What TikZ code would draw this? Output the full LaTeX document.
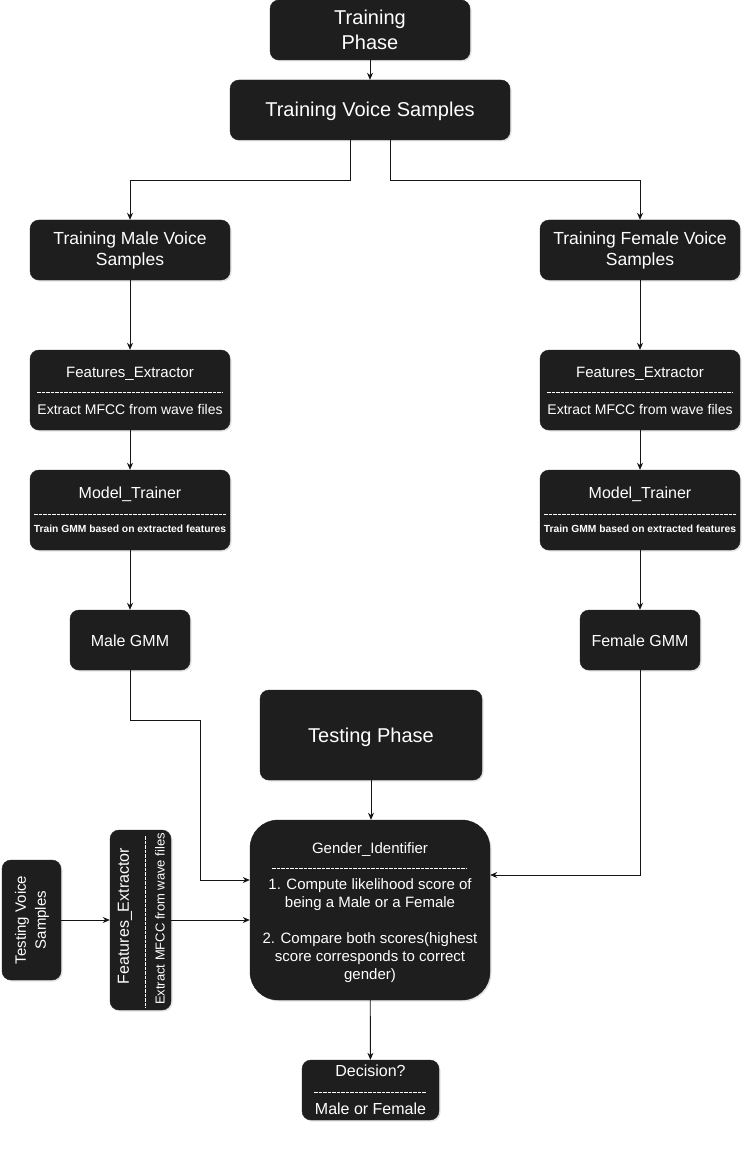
\documentclass[tikz,border=0pt]{standalone}
\usepackage{fontspec}
\setmainfont{Liberation Sans}
\usetikzlibrary{arrows.meta,shadows,calc}
\definecolor{boxfill}{RGB}{30,30,30}
\definecolor{linec}{RGB}{20,20,20}
\tikzset{
  box/.style={draw=boxfill, fill=boxfill, rounded corners=9pt, text=white, align=center, inner sep=0pt,
    drop shadow={shadow xshift=1.5pt, shadow yshift=-1.5pt, opacity=0.22}},
  lbl/.style={text=white, inner sep=0pt, align=center},
  sepline/.style={draw=white, line width=0.6pt, dash pattern=on 3.5pt off 1pt},
  conn/.style={draw=linec, line width=0.9pt, -{Stealth[length=7pt,width=6pt]}},
}
\begin{document}
\begin{tikzpicture}[x=1pt,y=-1pt]
\useasboundingbox (0,0) rectangle (752,1166);
\fill[white] (0,0) rectangle (752,1166);

% Training phase
\node[box, minimum width=200pt, minimum height=60pt, font=\fontsize{20}{25}\selectfont] (tp) at (370,30) {Training\\Phase};
\node[box, minimum width=280pt, minimum height=60pt, font=\fontsize{20}{24}\selectfont] (tvs) at (370,110) {};
\node[lbl, font=\fontsize{20}{24}\selectfont] (tvst) at (370,111.5) {Training Voice Samples};

\node[box, minimum width=200pt, minimum height=60pt, font=\fontsize{17.5}{21}\selectfont] (tm) at (130,250) {Training Male Voice\\Samples};
\node[box, minimum width=200pt, minimum height=60pt, font=\fontsize{17.5}{21}\selectfont] (tf) at (640,250) {Training Female Voice\\Samples};

% Feature extractors (left / right)
\node[box, minimum width=200pt, minimum height=80pt] (fe1) at (130,390) {};
\node[lbl, font=\fontsize{15}{18}\selectfont] (fe1t) at (130,374) {Features\_Extractor};
\draw[sepline] (37,392) coordinate (fe1a) -- (223,392) coordinate (fe1b);
\node[lbl, font=\fontsize{14}{17}\selectfont] (fe1s) at (130,409) {Extract MFCC from wave files};

\node[box, minimum width=200pt, minimum height=80pt] (fe2) at (640,390) {};
\node[lbl, font=\fontsize{15}{18}\selectfont] (fe2t) at (640,374) {Features\_Extractor};
\draw[sepline] (547,392) coordinate (fe2a) -- (733,392) coordinate (fe2b);
\node[lbl, font=\fontsize{14}{17}\selectfont] (fe2s) at (640,409) {Extract MFCC from wave files};

% Model trainers
\node[box, minimum width=200pt, minimum height=80pt] (mt1) at (130,510) {};
\node[lbl, font=\fontsize{16}{19}\selectfont] (mt1t) at (130,494) {Model\_Trainer};
\draw[sepline] (34,514) coordinate (mt1a) -- (226,514) coordinate (mt1b);
\node[lbl, font=\bfseries\fontsize{10.3}{12}\selectfont] (mt1s) at (130,529) {Train GMM based on extracted features};

\node[box, minimum width=200pt, minimum height=80pt] (mt2) at (640,510) {};
\node[lbl, font=\fontsize{16}{19}\selectfont] (mt2t) at (640,494) {Model\_Trainer};
\draw[sepline] (544,514) coordinate (mt2a) -- (736,514) coordinate (mt2b);
\node[lbl, font=\bfseries\fontsize{10.3}{12}\selectfont] (mt2s) at (640,529) {Train GMM based on extracted features};

% GMMs
\node[box, minimum width=120pt, minimum height=60pt] (mg) at (130,640) {};
\node[lbl, font=\fontsize{16}{19}\selectfont] (mgt) at (130,641) {Male GMM};
\node[box, minimum width=120pt, minimum height=60pt] (fg) at (640,640) {};
\node[lbl, font=\fontsize{16}{19}\selectfont] (fgt) at (640,641) {Female GMM};

% Testing phase
\node[box, minimum width=222pt, minimum height=90pt] (tph) at (371,735) {};
\node[lbl, font=\fontsize{20}{24}\selectfont] (tpht) at (371,737) {Testing Phase};

% Gender identifier
\node[box, rounded corners=28pt, minimum width=240pt, minimum height=180pt] (gi) at (370,910) {};
\node[lbl, font=\fontsize{15}{18}\selectfont] (git) at (370,850) {Gender\_Identifier};
\draw[sepline] (272,868) coordinate (gia) -- (467,868) coordinate (gib);
\node[lbl, font=\fontsize{15}{18}\selectfont] (gis) at (370,931)
  {1. Compute likelihood score of\\being a Male or a Female\\[18pt]2. Compare both scores(highest\\score corresponds to correct\\gender)};

% Decision
\node[box, minimum width=137pt, minimum height=60pt] (dec) at (370.5,1090) {};
\node[lbl, font=\fontsize{16}{19}\selectfont] (dect) at (370.5,1071) {Decision?};
\draw[sepline] (314,1092) coordinate (deca) -- (426,1092) coordinate (decb);
\node[lbl, font=\fontsize{16}{19}\selectfont] (decs) at (370.5,1109) {Male or Female};

% Testing voice samples (rotated)
\node[box, minimum width=59pt, minimum height=120pt] (tvs2) at (31.5,920) {};
\node[lbl, rotate=90, font=\fontsize{15}{20}\selectfont] (tvs2t) at (32,920) {Testing Voice\\Samples};

\node[box, minimum width=61pt, minimum height=180pt] (fe3) at (140.5,920) {};
\node[lbl, rotate=90, font=\fontsize{16}{19}\selectfont] (fe3t) at (125,916) {Features\_Extractor};
\draw[sepline] (145,836) coordinate (fe3a) -- (145,1008) coordinate (fe3b);
\node[lbl, rotate=90, font=\fontsize{13}{16}\selectfont] (fe3s) at (160,919) {Extract MFCC from wave files};

% Connectors
\coordinate (mj) at (200,720);
\draw[conn] (tp) -- (tvs);
\draw[conn] ($(tvs.south)+(-20,0)$) -- ++(0,40) -| (tm.north);
\draw[conn] ($(tvs.south)+(20,0)$) -- ++(0,40) -| (tf.north);
\draw[conn] (tm) -- (fe1);
\draw[conn] (fe1) -- (mt1);
\draw[conn] (mt1) -- (mg);
\draw[conn] (tf) -- (fe2);
\draw[conn] (fe2) -- (mt2);
\draw[conn] (mt2) -- (fg);
\draw[conn] (mg.south) |- (mj) |- ($(gi.west)+(0,-30)$);
\draw[conn] (fg.south) |- ($(gi.east)+(0,-35)$);
\draw[conn] (tph.south) -- (tph.south |- gi.north);
\draw[conn] (tvs2.east) -- (fe3.west);
\draw[conn] (fe3.east) -- (fe3.east -| gi.west);
\draw[conn] (gi) -- (dec);
\end{tikzpicture}
\end{document}
